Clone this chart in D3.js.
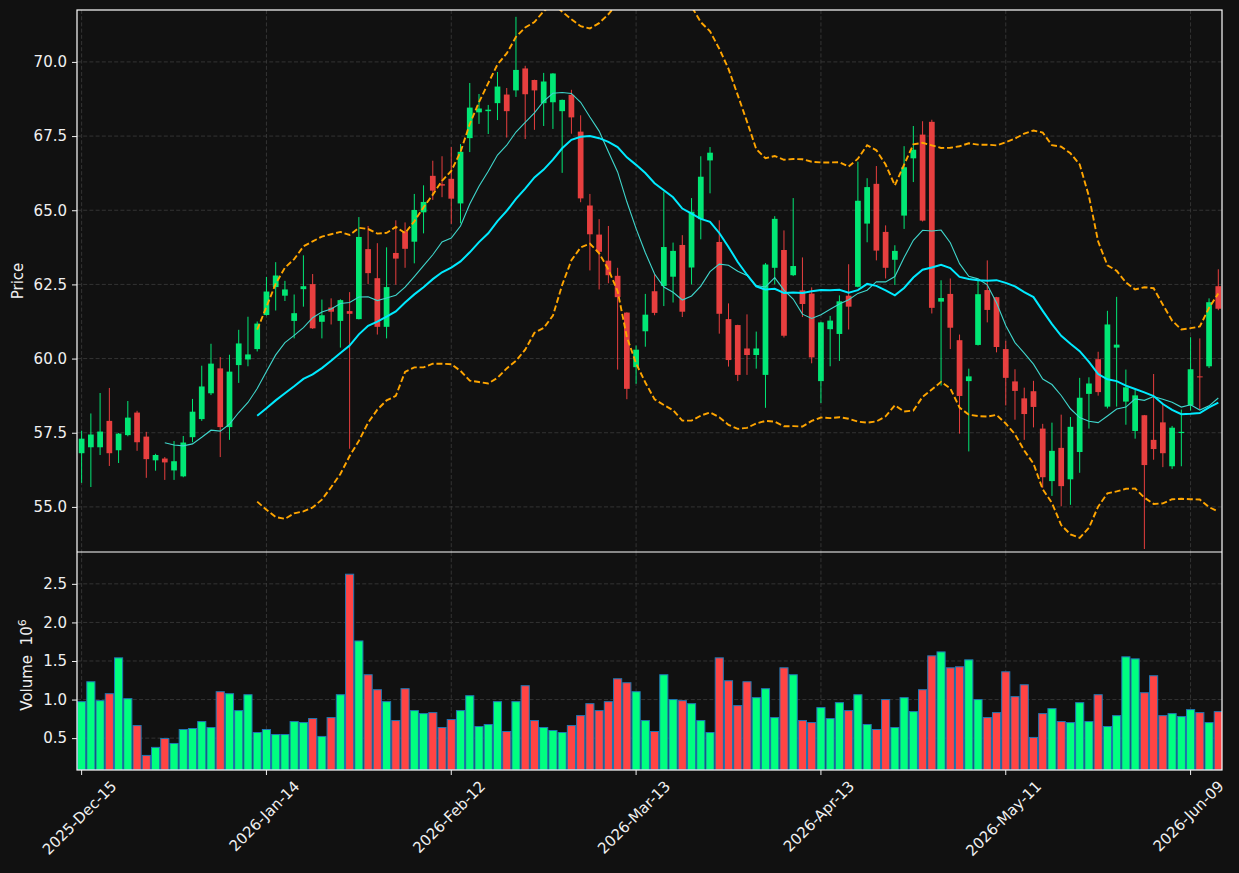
<!DOCTYPE html>
<html>
<head>
<meta charset="utf-8">
<script src="https://cdn.jsdelivr.net/npm/d3@7"></script>
<style>
  html, body { margin: 0; padding: 0; background: #111111; }
  svg { display: block; font-family: "DejaVu Sans", sans-serif; }
</style>
</head>
<body>
<svg id="chart" width="1239" height="873"></svg>
<script>
// OHLC values, one per trading day (index based x axis)
const opens = [56.81,57.01,57.01,57.90,56.91,57.42,58.18,57.37,56.57,56.63,56.23,56.03,57.35,57.96,58.83,59.67,57.69,59.78,59.97,60.32,
  61.47,62.41,62.12,61.27,62.34,62.51,61.24,61.72,61.27,61.60,61.33,63.69,62.71,61.07,63.56,64.29,63.94,64.93,66.16,65.88,
  66.06,65.23,67.43,68.30,68.34,68.61,68.90,69.04,69.78,69.39,68.61,68.64,68.34,68.89,67.65,65.16,64.18,63.30,62.79,61.55,
  59.71,60.92,62.27,62.45,62.76,63.83,63.07,64.70,66.68,63.93,61.33,61.13,60.34,60.12,59.45,63.06,63.66,62.81,62.30,62.19,
  59.24,60.99,60.83,62.12,62.42,64.55,65.89,64.27,63.33,64.82,66.75,67.55,67.98,61.92,62.18,60.62,59.24,60.46,62.31,62.07,
  60.32,59.23,58.66,58.90,57.64,55.87,56.99,55.93,56.85,58.81,59.98,58.38,60.37,58.55,57.56,58.09,57.26,57.85,56.37,57.49,
  58.42,59.40,59.74,62.44];
const highs = [57.57,58.15,58.84,59.01,57.49,58.57,58.24,57.53,56.79,56.68,57.22,57.39,58.64,59.76,60.50,60.05,60.13,60.97,61.41,61.25,
  62.75,63.25,62.62,62.16,63.48,62.85,61.99,62.03,62.00,62.24,64.77,64.47,63.89,63.75,64.66,64.59,65.55,65.84,66.67,66.82,
  67.13,67.23,69.29,68.92,68.55,69.66,69.12,71.52,69.87,69.40,69.63,69.62,68.73,69.06,68.20,65.55,64.70,64.47,63.06,61.56,
  60.44,62.18,62.84,65.63,63.91,64.16,65.41,66.82,67.13,64.66,61.86,61.14,61.49,60.91,63.22,64.80,64.32,65.41,63.41,62.40,
  61.24,61.44,62.13,63.18,66.64,66.08,66.49,64.49,63.82,67.16,67.84,68.00,68.05,62.64,62.70,60.81,59.66,62.62,63.31,62.08,
  60.60,59.64,59.02,59.25,57.80,57.84,58.11,58.03,59.35,59.37,60.23,61.61,62.08,59.63,58.94,58.10,59.48,58.48,57.73,58.28,
  60.72,60.68,62.03,63.01];
const lows = [55.81,55.67,56.75,56.38,56.48,57.38,56.89,55.98,56.22,55.91,55.91,56.00,57.18,57.90,58.77,56.68,57.26,59.18,59.74,60.24,
  61.45,61.62,61.94,60.68,61.75,61.00,60.68,61.15,60.37,56.96,61.32,62.51,60.81,60.68,62.49,63.06,63.21,64.22,65.35,65.44,
  64.54,64.56,66.96,67.91,67.57,68.04,67.45,68.82,67.40,67.71,67.84,67.74,66.26,67.58,65.27,62.97,62.33,62.54,59.63,58.63,
  59.15,60.40,61.46,61.77,61.89,61.40,62.50,64.02,65.57,60.84,59.73,59.24,59.45,59.66,58.34,62.50,60.71,62.78,61.40,59.84,
  58.50,59.74,59.92,60.98,62.40,63.92,63.31,62.70,62.48,64.37,65.95,64.62,61.52,59.09,60.32,57.47,56.87,60.44,61.22,60.21,
  58.42,57.94,57.26,57.68,55.64,55.37,55.02,55.07,56.15,57.64,58.75,58.32,58.38,57.77,57.30,53.58,56.59,56.34,56.28,56.37,
  58.25,58.28,59.68,61.63];
const closes = [57.30,57.44,57.54,56.81,57.47,58.01,57.18,56.61,56.75,56.50,56.54,57.17,58.21,59.06,59.83,57.69,59.56,60.51,60.14,61.18,
  62.26,62.80,62.33,61.53,62.44,61.02,61.46,61.58,61.97,61.51,64.10,62.88,61.07,62.41,63.37,63.70,65.01,65.28,65.66,65.83,
  65.39,66.97,68.46,68.43,68.39,69.17,68.34,69.73,68.91,69.04,69.34,69.61,68.72,68.13,65.40,64.19,63.60,62.81,62.07,58.98,
  60.30,61.48,61.54,63.76,63.63,61.58,64.95,66.13,66.94,61.51,59.95,59.45,60.12,60.34,63.17,64.71,60.77,63.12,61.84,60.04,
  61.22,61.28,61.93,61.75,65.32,65.78,63.64,63.06,63.63,66.45,67.04,64.65,61.71,62.04,61.04,58.74,59.40,62.17,61.64,60.39,
  59.35,58.91,58.13,58.37,56.00,56.89,55.70,57.70,58.68,59.16,58.87,61.15,60.47,59.03,58.76,56.41,56.95,56.81,57.67,57.53,
  59.64,59.37,61.90,61.68];
// volume in millions
const volumes = [0.973,1.231,0.986,1.076,1.541,1.012,0.663,0.276,0.380,0.496,0.431,0.612,0.625,0.715,0.638,1.102,1.076,0.857,1.063,0.573,
  0.612,0.547,0.547,0.715,0.702,0.754,0.522,0.767,1.063,2.625,1.760,1.322,1.128,0.973,0.728,1.141,0.857,0.818,0.831,0.638,
  0.741,0.857,1.050,0.651,0.677,0.973,0.586,0.973,1.180,0.728,0.638,0.599,0.573,0.663,0.792,0.947,0.857,0.973,1.270,1.218,
  1.102,0.728,0.586,1.322,1.000,0.986,0.947,0.728,0.573,1.541,1.244,0.922,1.231,1.025,1.141,0.767,1.412,1.322,0.728,0.702,
  0.896,0.754,0.960,0.857,1.063,0.677,0.612,1.000,0.638,1.025,0.844,1.128,1.567,1.618,1.412,1.425,1.515,1.000,0.767,0.831,
  1.360,1.038,1.192,0.509,0.818,0.883,0.715,0.702,0.960,0.715,1.063,0.651,0.792,1.554,1.528,1.089,1.309,0.792,0.818,0.780,
  0.870,0.831,0.702,0.844];

const tickIdx = [0, 20, 40, 60, 80, 100, 120];
const tickLabels = ["2025-Dec-15", "2026-Jan-14", "2026-Feb-12", "2026-Mar-13", "2026-Apr-13", "2026-May-11", "2026-Jun-09"];
const priceTicks = [55.0, 57.5, 60.0, 62.5, 65.0, 67.5, 70.0];
const volTicks = [0.5, 1.0, 1.5, 2.0, 2.5];

const upColor = "#00ff80", downColor = "#ff4444";
const fg = "#f0f0f0";
const fontPx = "15px";

const left = 77, right = 1222;
const mainTop = 10, mainBottom = 552;
const volTop = 552, volBottom = 770;

const svg = d3.select("#chart");
svg.append("rect").attr("width", 1239).attr("height", 873).attr("fill", "#111111");

const x = d3.scaleLinear().domain([-0.5, 123.4]).range([left, right]);
const y = d3.scaleLinear().domain([53.48, 71.75]).range([mainBottom, mainTop]);
const yv = d3.scaleLinear().domain([0.087, 2.9]).range([volBottom, volTop + 1]);
const step = x(1) - x(0);

const bars = closes.map((c, i) => ({ i, o: opens[i], h: highs[i], l: lows[i], c, v: volumes[i], up: c >= opens[i] }));

// clip paths for the two panels
const defs = svg.append("defs");
defs.append("clipPath").attr("id", "clipMain").append("rect")
  .attr("x", left).attr("y", mainTop).attr("width", right - left).attr("height", mainBottom - mainTop);
defs.append("clipPath").attr("id", "clipVol").append("rect")
  .attr("x", left).attr("y", volTop).attr("width", right - left).attr("height", volBottom - volTop);

// grid
const grid = svg.append("g").attr("stroke", "#3c3c3c").attr("stroke-width", 0.8).attr("stroke-dasharray", "4,2.2");
grid.selectAll("line.vg").data(tickIdx).enter().append("line")
  .attr("x1", d => x(d)).attr("x2", d => x(d)).attr("y1", mainTop).attr("y2", mainBottom);
grid.selectAll("line.vg2").data(tickIdx).enter().append("line")
  .attr("x1", d => x(d)).attr("x2", d => x(d)).attr("y1", volTop).attr("y2", volBottom);
grid.selectAll("line.hg").data(priceTicks).enter().append("line")
  .attr("x1", left).attr("x2", right).attr("y1", d => y(d)).attr("y2", d => y(d));
grid.selectAll("line.hv").data(volTicks).enter().append("line")
  .attr("x1", left).attr("x2", right).attr("y1", d => yv(d)).attr("y2", d => yv(d));

// candles
const candles = svg.append("g").attr("clip-path", "url(#clipMain)").attr("opacity", 0.9);
candles.selectAll("line").data(bars).enter().append("line")
  .attr("x1", d => x(d.i)).attr("x2", d => x(d.i))
  .attr("y1", d => y(d.h)).attr("y2", d => y(d.l))
  .attr("stroke", d => d.up ? upColor : downColor).attr("stroke-width", 1);
const bodyW = step * 0.62;
candles.selectAll("rect").data(bars).enter().append("rect")
  .attr("x", d => x(d.i) - bodyW / 2).attr("width", bodyW)
  .attr("y", d => y(Math.max(d.o, d.c)))
  .attr("height", d => Math.max(1, Math.abs(y(d.o) - y(d.c))))
  .attr("fill", d => d.up ? upColor : downColor);

// moving averages and bollinger bands from closes
function rolling(n, fn) {
  return closes.map((c, i) => i < n - 1 ? null : fn(closes.slice(i - n + 1, i + 1)));
}
const ma10 = rolling(10, a => d3.mean(a));
const ma20 = rolling(20, a => d3.mean(a));
const sd20 = rolling(20, a => d3.deviation(a));
const bbUp = ma20.map((m, i) => m == null ? null : m + 2 * sd20[i]);
const bbLo = ma20.map((m, i) => m == null ? null : m - 2 * sd20[i]);

const line = d3.line().defined(d => d != null).x((d, i) => x(i)).y(d => y(d));
const lines = svg.append("g").attr("clip-path", "url(#clipMain)").attr("fill", "none");
lines.append("path").attr("d", line(ma10)).attr("stroke", "#3fd6cc").attr("stroke-width", 1.1);
lines.append("path").attr("d", line(ma20)).attr("stroke", "#00eaff").attr("stroke-width", 2);
[bbUp, bbLo].forEach(s => {
  lines.append("path").attr("d", line(s)).attr("stroke", "#ffa500")
    .attr("stroke-width", 1.9).attr("stroke-dasharray", "6,2.8");
});

// volume bars
const volW = step * 0.88;
svg.append("g").attr("clip-path", "url(#clipVol)")
  .selectAll("rect").data(bars).enter().append("rect")
  .attr("x", d => x(d.i) - volW / 2).attr("width", volW)
  .attr("y", d => yv(d.v)).attr("height", d => volBottom - yv(d.v))
  .attr("fill", d => d.up ? upColor : downColor)
  .attr("stroke", "#1f77b4").attr("stroke-width", 1);

// frames
svg.append("rect").attr("x", left).attr("y", mainTop).attr("width", right - left).attr("height", volBottom - mainTop)
  .attr("fill", "none").attr("stroke", "#ffffff").attr("stroke-width", 1.2);
svg.append("line").attr("x1", left).attr("x2", right).attr("y1", mainBottom).attr("y2", mainBottom)
  .attr("stroke", "#ffffff").attr("stroke-width", 1.2);

// y axes
const yAxis = svg.append("g").attr("transform", `translate(${left},0)`)
  .call(d3.axisLeft(y).tickValues(priceTicks).tickFormat(d3.format(".1f")).tickSize(5).tickPadding(5));
const vAxis = svg.append("g").attr("transform", `translate(${left},0)`)
  .call(d3.axisLeft(yv).tickValues(volTicks).tickFormat(d3.format(".1f")).tickSize(5).tickPadding(5));
[yAxis, vAxis].forEach(g => {
  g.select(".domain").remove();
  g.selectAll("line").attr("stroke", fg);
  g.selectAll("text").attr("fill", fg).style("font-size", fontPx).style("font-family", "DejaVu Sans");
});

// x axis ticks and rotated labels
const xg = svg.append("g");
xg.selectAll("line").data(tickIdx).enter().append("line")
  .attr("x1", d => x(d)).attr("x2", d => x(d)).attr("y1", volBottom).attr("y2", volBottom + 5)
  .attr("stroke", fg);
xg.selectAll("text").data(tickIdx).enter().append("text")
  .attr("text-anchor", "middle").attr("dominant-baseline", "central")
  .attr("fill", fg).style("font-size", fontPx)
  .text((d, i) => tickLabels[i])
  .each(function (d) {
    const L = this.getComputedTextLength();
    const cy = volBottom + 8 + (L + 16) / (2 * Math.SQRT2);
    d3.select(this).attr("x", x(d) - 2).attr("y", cy)
      .attr("transform", `rotate(-45,${x(d) - 2},${cy})`);
  });

// axis labels
svg.append("text").attr("transform", `translate(23,${(mainTop + mainBottom) / 2}) rotate(-90)`)
  .attr("text-anchor", "middle").attr("fill", fg).style("font-size", fontPx).text("Price");
const vl = svg.append("text").attr("transform", `translate(32,${(volTop + volBottom) / 2 + 4}) rotate(-90)`)
  .attr("text-anchor", "middle").attr("fill", fg).style("font-size", fontPx);
vl.append("tspan").text("Volume\u00a0\u00a010");
vl.append("tspan").attr("dy", -6).style("font-size", "11px").text("6");
</script>
</body>
</html>
